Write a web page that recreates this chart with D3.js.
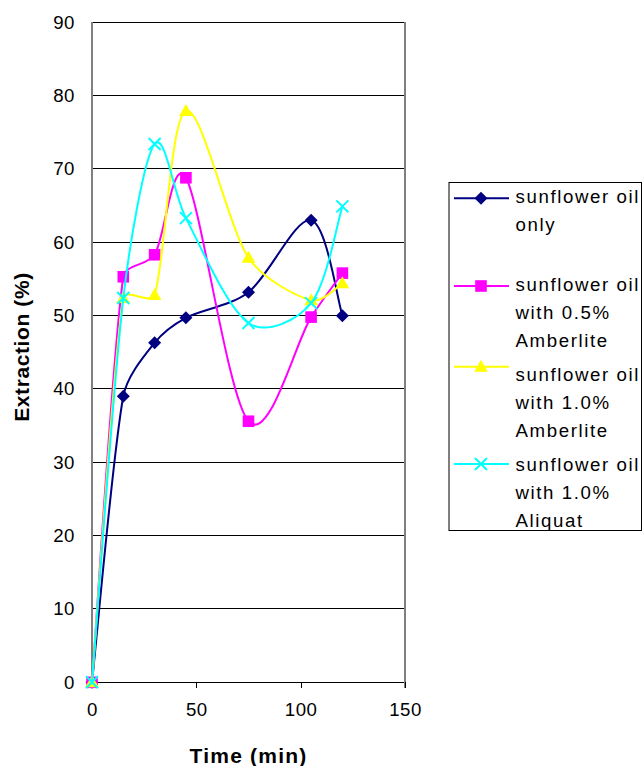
<!DOCTYPE html>
<html>
<head>
<meta charset="utf-8">
<script src="https://cdn.jsdelivr.net/npm/d3@7"></script>
<style>
  html, body { margin: 0; padding: 0; background: #ffffff; }
  svg { display: block; font-family: "Liberation Sans", Arial, sans-serif; }
</style>
</head>
<body>
<svg id="chart" width="642" height="766"></svg>
<script>
// ---- data ----
const times = [0, 15, 30, 45, 75, 105, 120];
const oilOnly = [0, 39.0, 46.3, 49.7, 53.2, 63.0, 50.0];
const amberlite05 = [0, 55.3, 58.3, 68.8, 35.6, 49.8, 55.8];
const amberlite10 = [0, 52.4, 52.8, 77.9, 57.9, 52.1, 54.4];
const aliquat10 = [0, 52.4, 73.4, 63.3, 49.0, 51.7, 64.9];
const seriesNames = [
  ["sunflower oil", "only"],
  ["sunflower oil", "with 0.5%", "Amberlite"],
  ["sunflower oil", "with 1.0%", "Amberlite"],
  ["sunflower oil", "with 1.0%", "Aliquat"]
];
const seriesColors = ["#000080", "#ff00ff", "#ffff00", "#00ffff"];
const seriesMarkers = ["diamond", "square", "triangle", "cross"];
const xTicks = [0, 50, 100, 150];
const yTicks = [0, 10, 20, 30, 40, 50, 60, 70, 80, 90];

const allSeries = [oilOnly, amberlite05, amberlite10, aliquat10].map((vals, i) => ({
  name: seriesNames[i], color: seriesColors[i], marker: seriesMarkers[i],
  points: times.map((t, j) => ({ x: t, y: vals[j] }))
}));

// ---- layout ----
const plot = { left: 92, right: 405, top: 22.3, bottom: 682.3 };
const svg = d3.select("#chart");
const x = d3.scaleLinear().domain([0, 150]).range([plot.left, plot.right]);
const y = d3.scaleLinear().domain([0, 90]).range([plot.bottom, plot.top]);

// gridlines
svg.append("g").selectAll("line").data(yTicks).join("line")
  .attr("x1", plot.left).attr("x2", plot.right)
  .attr("y1", d => y(d)).attr("y2", d => y(d))
  .attr("stroke", "#000").attr("stroke-width", 1)
  .attr("shape-rendering", "crispEdges");

// plot side borders (gray), extend as tick at 0/150
svg.append("line").attr("x1", plot.left).attr("x2", plot.left)
  .attr("y1", plot.top).attr("y2", plot.bottom + 6)
  .attr("stroke", "#808080").attr("stroke-width", 2).attr("shape-rendering", "crispEdges");
svg.append("line").attr("x1", plot.right).attr("x2", plot.right)
  .attr("y1", plot.top).attr("y2", plot.bottom + 6)
  .attr("stroke", "#808080").attr("stroke-width", 2).attr("shape-rendering", "crispEdges");

// x axis
const xAxis = d3.axisBottom(x).tickValues(xTicks).tickSize(6).tickPadding(14).tickFormat(d3.format("d"));
const gx = svg.append("g").attr("transform", `translate(0,${plot.bottom})`).call(xAxis);
gx.select(".domain").remove();
gx.selectAll(".tick line").attr("stroke", "#000").attr("shape-rendering", "crispEdges");
gx.selectAll(".tick text").attr("font-size", "18.67px").attr("fill", "#000")
  .attr("font-family", "Liberation Sans, Arial, sans-serif").attr("letter-spacing", "0.5px");

// y axis labels
const yAxis = d3.axisLeft(y).tickValues(yTicks).tickSize(0).tickPadding(17);
const gy = svg.append("g").attr("transform", `translate(${plot.left},0)`).call(yAxis);
gy.select(".domain").remove();
gy.selectAll(".tick text").attr("font-size", "18.67px").attr("fill", "#000")
  .attr("font-family", "Liberation Sans, Arial, sans-serif").attr("letter-spacing", "0.5px");

// axis titles
svg.append("text").attr("x", (plot.left + plot.right) / 2).attr("y", 763)
  .attr("text-anchor", "middle").attr("font-weight", "bold").attr("font-size", "21px")
  .attr("letter-spacing", "1.2px").text("Time (min)");
svg.append("text").attr("transform", "translate(28.5,347) rotate(-90)")
  .attr("text-anchor", "middle").attr("font-weight", "bold").attr("font-size", "21px")
  .attr("letter-spacing", "0.6px").text("Extraction (%)");

// marker drawing
function drawMarker(g, type, color) {
  if (type === "diamond") {
    g.append("path").attr("d", "M0,-6.5L6.5,0L0,6.5L-6.5,0Z").attr("fill", color);
  } else if (type === "square") {
    g.append("rect").attr("x", -5.8).attr("y", -5.8).attr("width", 11.6).attr("height", 11.6).attr("fill", color);
  } else if (type === "triangle") {
    g.append("path").attr("d", "M0,-7L6.8,5L-6.8,5Z").attr("fill", color);
  } else if (type === "cross") {
    g.append("path").attr("d", "M-6,-6L6,6M-6,6L6,-6").attr("stroke", color).attr("stroke-width", 2).attr("fill", "none");
  }
}

// Excel-like smoothed line: cubic Bezier with tangents (P[i+1]-P[i-1])/6,
// with control arms limited to a third of the segment they belong to.
function smoothPath(points) {
  const p = points.map(d => [x(d.x), y(d.y)]);
  const n = p.length;
  const tan = p.map((pt, i) => {
    const a = p[Math.max(0, i - 1)], b = p[Math.min(n - 1, i + 1)];
    return [(b[0] - a[0]) / 6, (b[1] - a[1]) / 6];
  });
  const path = d3.path();
  path.moveTo(p[0][0], p[0][1]);
  for (let i = 0; i < n - 1; i++) {
    const a = p[i], b = p[i + 1];
    const d = Math.hypot(b[0] - a[0], b[1] - a[1]);
    const lim = d / 3;
    const ta = tan[i], tb = tan[i + 1];
    const la = Math.hypot(ta[0], ta[1]) || 1, lb = Math.hypot(tb[0], tb[1]) || 1;
    const sa = Math.min(1, lim / la), sb = Math.min(1, lim / lb);
    path.bezierCurveTo(a[0] + ta[0] * sa, a[1] + ta[1] * sa,
                       b[0] - tb[0] * sb, b[1] - tb[1] * sb,
                       b[0], b[1]);
  }
  return path.toString();
}

allSeries.forEach(s => {
  const g = svg.append("g");
  g.append("path").attr("d", smoothPath(s.points)).attr("fill", "none")
    .attr("stroke", s.color).attr("stroke-width", 2);
  s.points.forEach(p => {
    const mg = g.append("g").attr("transform", `translate(${x(p.x)},${y(p.y)})`);
    drawMarker(mg, s.marker, s.color);
  });
});

// legend
const legendBox = { left: 449, top: 182.5, right: 641.5, bottom: 530.5 };
svg.append("rect").attr("x", legendBox.left).attr("y", legendBox.top)
  .attr("width", legendBox.right - legendBox.left).attr("height", legendBox.bottom - legendBox.top)
  .attr("fill", "#fff").attr("stroke", "#000").attr("stroke-width", 1);
const legendLineY = [198.3, 286, 366.7, 464];
const legendTextY = [203.3, 291, 381, 471];
const lineGap = 27.8;
allSeries.forEach((s, i) => {
  const g = svg.append("g");
  g.append("line").attr("x1", 454).attr("x2", 509)
    .attr("y1", legendLineY[i]).attr("y2", legendLineY[i])
    .attr("stroke", s.color).attr("stroke-width", 2);
  const mg = g.append("g").attr("transform", `translate(481,${legendLineY[i]})`);
  drawMarker(mg, s.marker, s.color);
  s.name.forEach((t, k) => {
    g.append("text").attr("x", 515.5).attr("y", legendTextY[i] + k * lineGap)
      .attr("font-size", "18.67px").attr("letter-spacing", "1.6px").attr("fill", "#000").text(t);
  });
});
</script>
</body>
</html>
